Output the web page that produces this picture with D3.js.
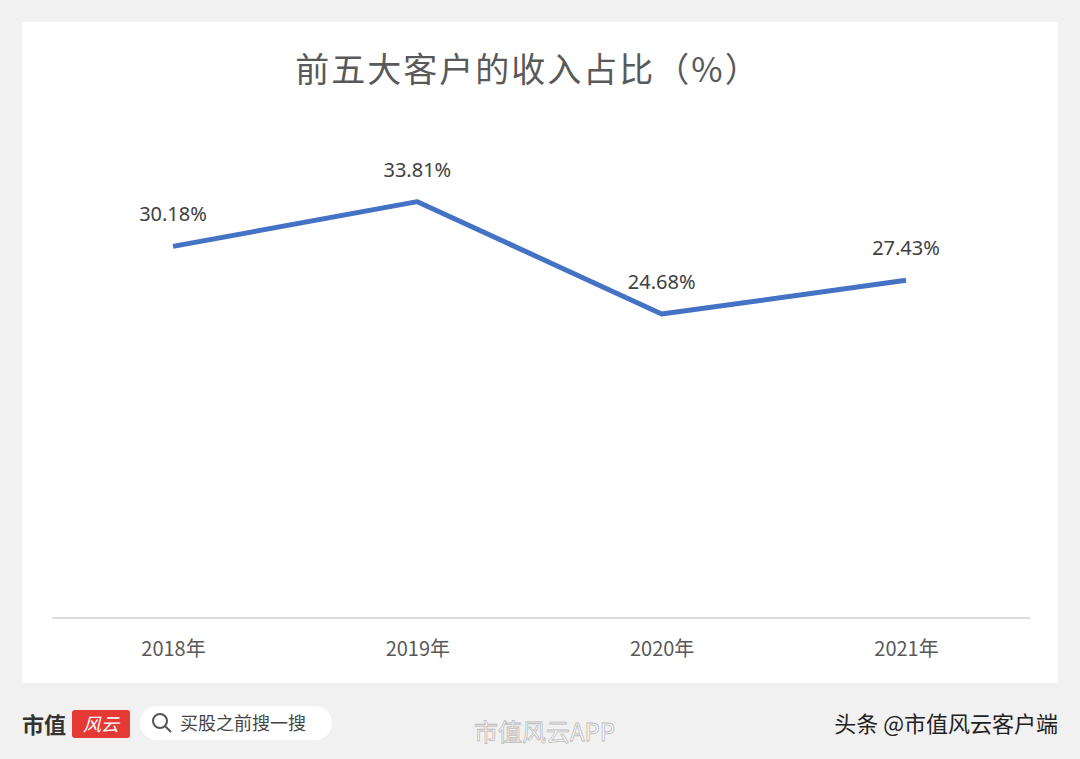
<!DOCTYPE html>
<html><head><meta charset="utf-8">
<script src="https://cdn.jsdelivr.net/npm/d3@7"></script>
<style>body{margin:0;background:#f1f1f1;font-family:"Noto Sans CJK SC","Noto Sans",sans-serif}</style>
</head><body>
<svg id="c" width="1080" height="759"></svg>
<script>
const categories=["2018年","2019年","2020年","2021年"];
const values=[30.18,33.81,24.68,27.43];
const valueLabels=["30.18%","33.81%","24.68%","27.43%"];
const title="前五大客户的收入占比（%）";

const svg=d3.select("#c");
svg.append("rect").attr("width",1080).attr("height",759).attr("fill","#f1f1f1");
svg.append("rect").attr("x",22).attr("y",22).attr("width",1036).attr("height",661).attr("fill","#fff");

svg.append("text").attr("x",528).attr("y",82).attr("text-anchor","middle")
  .attr("font-size",34).attr("fill","#595959").attr("letter-spacing",2).text(title);

const x=d3.scalePoint().domain(categories).range([173,906]);
const y=d3.scaleLinear().domain([0,35]).range([618,187]);

const ax=svg.append("g").attr("transform","translate(0,618)")
  .call(d3.axisBottom(x).tickSize(0).tickPadding(24));
ax.select(".domain").attr("d","M52,0H1030").attr("stroke","#d0d0d0").attr("stroke-width",1.5);
ax.selectAll("text").attr("font-size",20).attr("fill","#595959").attr("font-family","Noto Sans CJK SC");

svg.append("path").datum(values)
  .attr("d",d3.line().x((d,i)=>x(categories[i])).y(d=>y(d)))
  .attr("fill","none").attr("stroke","#4472C4").attr("stroke-width",5).attr("stroke-linejoin","round");

svg.selectAll(".lbl").data(values).enter().append("text")
  .attr("x",(d,i)=>x(categories[i])).attr("y",d=>y(d)-25)
  .attr("text-anchor","middle").attr("font-size",20).attr("fill","#404040")
  .attr("font-family","Noto Sans").text((d,i)=>valueLabels[i]);

// footer
svg.append("text").attr("x",22).attr("y",733).attr("font-size",22).attr("font-weight","bold").attr("fill","#333").text("市值");
svg.append("rect").attr("x",72).attr("y",710).attr("width",58).attr("height",28).attr("rx",3).attr("fill","#e53935");
svg.append("text").attr("x",101).attr("y",731).attr("text-anchor","middle").attr("font-size",18).attr("fill","#fff").attr("font-style","italic").text("风云");
svg.append("rect").attr("x",140).attr("y",706).attr("width",192).attr("height",34).attr("rx",17).attr("fill","#fff");
svg.append("circle").attr("cx",160).attr("cy",721).attr("r",7).attr("fill","none").attr("stroke","#555").attr("stroke-width",2);
svg.append("line").attr("x1",165).attr("y1",726).attr("x2",171).attr("y2",732).attr("stroke","#555").attr("stroke-width",2);
svg.append("text").attr("x",180).attr("y",730).attr("font-size",18).attr("fill","#444").text("买股之前搜一搜");
svg.append("text").attr("x",474).attr("y",741).attr("font-size",24).attr("fill","#fff").attr("stroke","#bbb").attr("stroke-width",0.8).text("市值风云APP");
svg.append("text").attr("x",1058).attr("y",732).attr("text-anchor","end").attr("font-size",22).attr("fill","#222").text("头条 @市值风云客户端");
</script></body></html>
